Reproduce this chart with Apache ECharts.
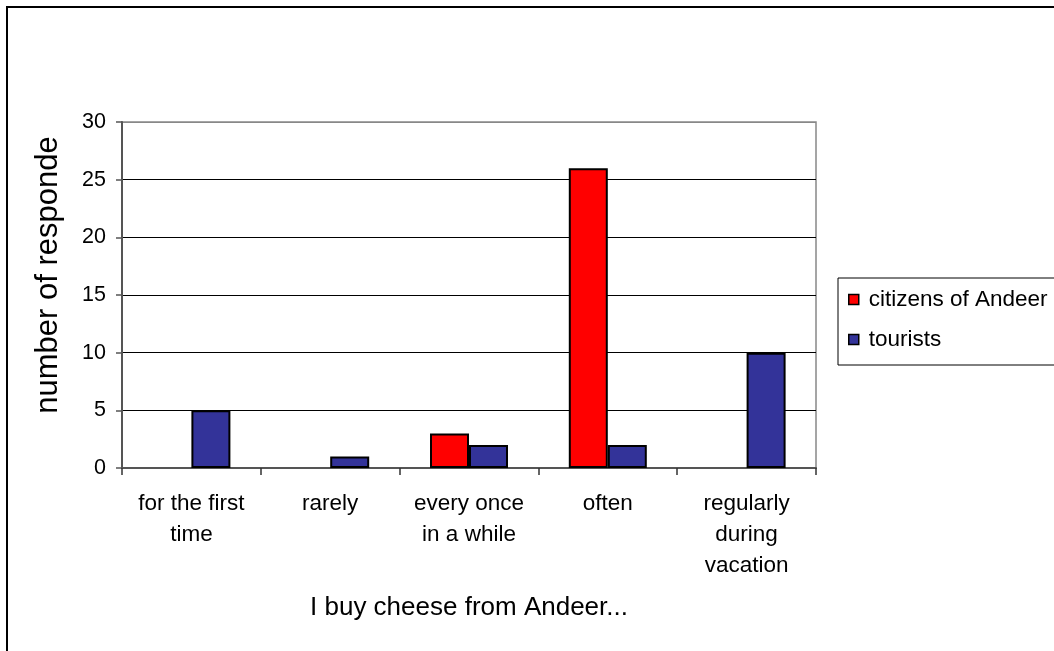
<!DOCTYPE html>
<html>
<head>
<meta charset="utf-8">
<script src="https://cdn.jsdelivr.net/npm/echarts@6/dist/echarts.min.js"></script>
<style>
  html, body { margin: 0; padding: 0; background: #fff; }
  #chart { width: 1054px; height: 651px; }
</style>
</head>
<body>
<div id="chart"></div>
<script>
// Survey: how often people buy cheese from Andeer
const categories = ['for the first\ntime', 'rarely', 'every once\nin a while', 'often', 'regularly\nduring\nvacation'];
const citizens = [0, 0, 3, 26, 0];
const tourists = [5, 1, 2, 2, 10];
const seriesNames = ['citizens of Andeer', 'tourists'];
const yTicks = { min: 0, max: 30, interval: 5 };
const xTitle = 'I buy cheese from Andeer...';
const yTitle = 'number of respondents';

const FONT = '"Liberation Sans", Arial, sans-serif';
const chart = echarts.init(document.getElementById('chart'), null, { renderer: 'canvas' });

// Empty (zero) bars get no outline so nothing shows on the baseline
const toBars = (values) => values.map(v => v === 0
  ? { value: v, itemStyle: { borderWidth: 0 } }
  : v);

const barStyle = (color) => ({ color: color, borderColor: '#000', borderWidth: 2 });

// Gridlines: axis baseline, inner lines black, top edge in plot-border grey
const nLines = (yTicks.max - yTicks.min) / yTicks.interval + 1;
const gridColors = Array.from({ length: nLines }, (_, i) =>
  i === 0 ? '#555' : (i === nLines - 1 ? '#888' : '#000'));

chart.setOption({
  animation: false,
  backgroundColor: '#fff',
  textStyle: { fontFamily: FONT, color: '#000' },
  grid: {
    left: 122, top: 122, right: 238, bottom: 183,
    show: true, borderColor: '#888', borderWidth: 1.5, backgroundColor: 'transparent'
  },
  legend: {
    left: 838, top: 278,
    orient: 'vertical',
    data: seriesNames,
    icon: 'rect',
    itemWidth: 10, itemHeight: 10,
    itemGap: 17,
    padding: [10, 14, 14, 10],
    borderColor: '#000', borderWidth: 1,
    backgroundColor: '#fff',
    itemStyle: { borderColor: '#000', borderWidth: 1.5 },
    textStyle: { fontFamily: FONT, fontSize: 22.5, color: '#000', padding: [0, 0, 0, 5], lineHeight: 21 }
  },
  xAxis: {
    type: 'category',
    data: categories,
    name: xTitle,
    nameLocation: 'middle',
    nameGap: 127,
    nameTextStyle: { fontFamily: FONT, fontSize: 26, color: '#000' },
    axisLine: { lineStyle: { color: '#555', width: 2 } },
    axisTick: { show: true, alignWithLabel: false, length: 7, lineStyle: { color: '#333', width: 1.5 } },
    axisLabel: { fontFamily: FONT, fontSize: 22.5, color: '#000', margin: 20, lineHeight: 31, interval: 0 },
    splitLine: { show: false }
  },
  yAxis: {
    type: 'value',
    min: yTicks.min, max: yTicks.max, interval: yTicks.interval,
    axisLine: { show: true, lineStyle: { color: '#555', width: 2 } },
    axisTick: { show: true, length: 6, lineStyle: { color: '#555', width: 1.5 } },
    axisLabel: { fontFamily: FONT, fontSize: 21.5, color: '#000', margin: 16 },
    splitLine: { show: true, lineStyle: { color: gridColors, width: 1 } }
  },
  series: [
    {
      name: seriesNames[0], type: 'bar', data: toBars(citizens),
      barWidth: 39, barGap: '0%',
      itemStyle: barStyle('#FF0000')
    },
    {
      name: seriesNames[1], type: 'bar', data: toBars(tourists),
      barWidth: 39, barGap: '0%',
      itemStyle: barStyle('#333399')
    }
  ],
  graphic: [
    {
      type: 'rect', silent: true, z: 100,
      shape: { x: 7, y: 7, width: 1200, height: 1000 },
      style: { fill: 'none', stroke: '#000', lineWidth: 2 }
    },
    {
      // y-axis title, cut short by the space available above the plot
      type: 'text', silent: true,
      x: 48, y: 275, rotation: Math.PI / 2,
      style: {
        text: yTitle,
        fontFamily: FONT, fontSize: 31, fill: '#000',
        align: 'center', verticalAlign: 'middle',
        width: 285, overflow: 'truncate', ellipsis: ''
      }
    }
  ]
});
</script>
</body>
</html>
